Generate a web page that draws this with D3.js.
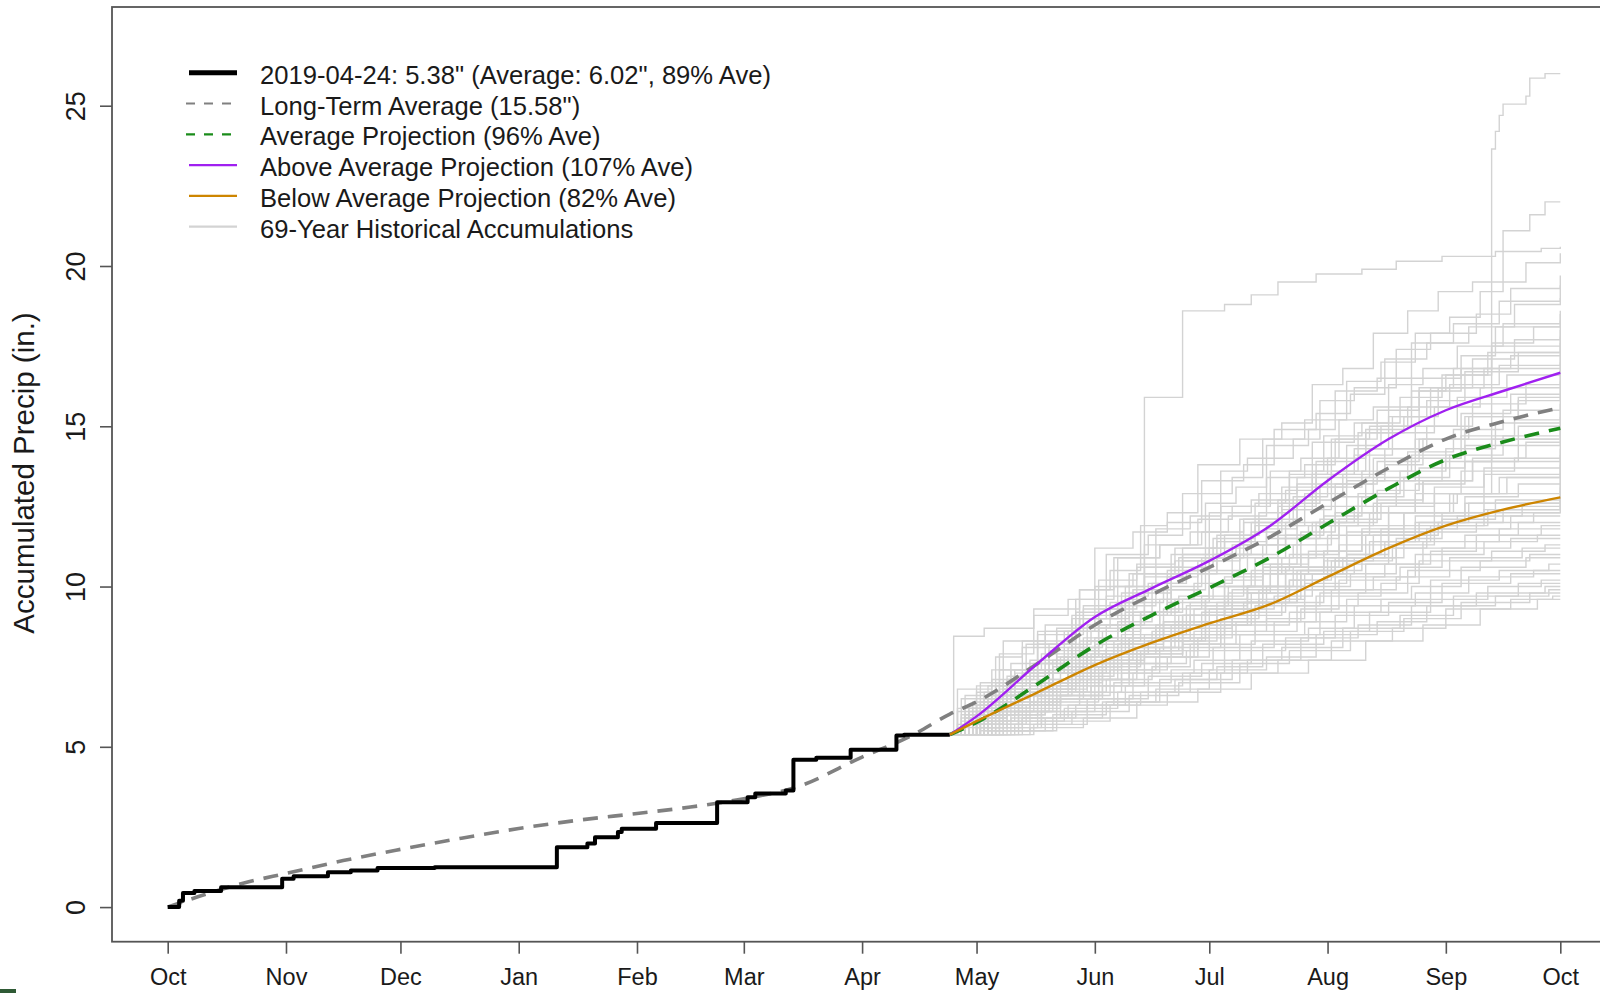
<!DOCTYPE html>
<html>
<head>
<meta charset="utf-8">
<script src="https://cdn.jsdelivr.net/npm/d3@7"></script>
<style>
html,body{margin:0;padding:0;background:#fff;}
svg{display:block;}
text{font-family:"Liberation Sans",Arial,Helvetica,sans-serif;fill:#1a1a1a;}
</style>
</head>
<body>
<svg id="chart" width="1600" height="993"></svg>
<script>
// ---------------- DATA ----------------
// x values are days since Oct 1 2018 (water year), y values inches
const monthTicks = [0, 31, 61, 92, 123, 151, 182, 212, 243, 273, 304, 335, 365];
const monthLabels = ["Oct","Nov","Dec","Jan","Feb","Mar","Apr","May","Jun","Jul","Aug","Sep","Oct"];
const yTicks = [0, 5, 10, 15, 20, 25];
const yTitle = "Accumulated Precip (in.)";

// observed 2018-19 accumulation (step)
const observed = [[0,0],[3,0.2],[4,0.44],[7,0.5],[14,0.62],[30,0.88],[33,0.96],[42,1.09],[48,1.14],[55,1.22],[70,1.24],
  [102,1.87],[110,1.98],[112,2.18],[118,2.34],[119,2.44],[128,2.62],[144,3.27],[152,3.43],[154,3.54],[162,3.64],
  [164,4.6],[170,4.66],[179,4.91],[191,5.35],[193,5.38],[205,5.38]];

// long-term average accumulation
const longTermAvg = [[0,0],[10,0.4],[20,0.75],[31,1.05],[46,1.45],[61,1.8],[77,2.15],[92,2.45],[107,2.7],[123,2.92],
  [137,3.12],[151,3.38],[165,3.75],[182,4.68],[195,5.35],[205,6.02],[212,6.4],[228,7.6],[243,8.8],[258,9.75],
  [273,10.6],[289,11.55],[304,12.6],[320,13.7],[335,14.6],[350,15.15],[365,15.58]];

// projections from 2019-04-24
const avgProjection = [[205,5.38],[212,5.76],[228,6.96],[243,8.16],[258,9.11],[273,9.96],[289,10.91],[304,11.96],
  [320,13.06],[335,13.96],[350,14.51],[365,14.94]];
const aboveProjection = [[205,5.38],[212,5.95],[228,7.6],[243,9.05],[258,9.95],[273,10.8],[289,11.9],[304,13.3],
  [320,14.6],[335,15.5],[350,16.1],[365,16.67]];
const belowProjection = [[205,5.38],[212,5.8],[228,6.7],[243,7.55],[258,8.25],[273,8.85],[289,9.45],[304,10.3],
  [320,11.2],[335,11.9],[350,12.4],[365,12.78]];

// 69 historical accumulations added to the current total (step)
const historical = [
[[205,5.38],[208,5.8],[214,6.5],[221,7.4],[233,8.1],[244,8.7],[250,9.8],[263,10.4],[275,11.0],[288,11.5],[299,11.9],[312,12.3],[327,12.6],[338,12.9],[347,23.65],[348,24.2],[349,24.7],[350,25.05],[356,25.3],[357,25.86],[361,26.0],[365,26.0]],
[[205,5.38],[210,6.1],[217,7.8],[224,8.3],[238,9.2],[246,11.0],[257,11.6],[266,12.9],[279,13.4],[287,14.6],[298,15.2],[309,16.4],[318,17.0],[327,17.9],[336,18.4],[344,19.2],[350,21.1],[357,21.6],[361,22.0],[365,22.0]],
[[205,5.38],[211,6.0],[219,6.8],[230,7.6],[241,8.3],[249,8.8],[256,15.9],[266,18.6],[277,18.8],[284,19.1],[291,19.5],[301,19.75],[313,19.9],[322,20.15],[334,20.3],[348,20.45],[360,20.55],[365,20.6]],
[[205,5.38],[209,5.9],[220,7.2],[231,8.0],[239,9.9],[247,10.5],[255,11.9],[262,12.3],[270,13.8],[281,14.6],[292,15.1],[300,16.3],[308,16.8],[316,17.9],[325,18.6],[333,19.2],[342,19.5],[356,20.1],[365,20.4]],
[[205,5.38],[213,6.4],[222,7.0],[228,8.5],[240,9.3],[251,10.0],[259,11.8],[268,12.2],[276,13.6],[283,14.0],[295,14.6],[302,15.8],[311,16.2],[322,17.4],[331,17.9],[343,18.5],[352,19.3],[365,19.7]],
[[205,5.38],[207,6.2],[216,6.6],[226,7.3],[235,8.6],[244,9.0],[252,10.4],[264,10.8],[272,12.6],[280,13.1],[288,14.4],[299,14.9],[306,16.1],[317,16.5],[326,17.6],[337,18.2],[349,18.9],[365,19.4]],
[[205,5.38],[212,6.1],[218,7.9],[227,9.1],[236,9.6],[243,11.2],[253,11.7],[262,12.0],[271,13.3],[282,13.8],[290,14.9],[301,15.4],[310,16.0],[319,17.1],[330,17.6],[341,18.1],[353,18.8],[365,19.0]],
[[205,5.38],[214,5.8],[223,6.7],[231,7.1],[240,8.4],[249,8.9],[258,10.1],[267,10.5],[275,11.4],[285,12.6],[293,13.0],[300,14.5],[311,15.1],[320,16.3],[329,16.8],[338,17.5],[350,18.2],[365,18.6]],
[[205,5.38],[206,8.45],[214,8.7],[227,9.3],[239,9.9],[248,10.9],[260,11.3],[270,12.1],[279,12.5],[289,13.6],[297,14.0],[307,15.2],[316,15.6],[326,16.5],[339,17.2],[348,18.1],[365,18.5]],
[[205,5.38],[210,5.7],[219,6.3],[232,7.5],[241,8.0],[251,9.6],[263,10.0],[271,10.9],[280,11.3],[291,12.7],[301,13.1],[309,14.4],[318,15.0],[328,16.2],[337,16.8],[347,17.6],[358,18.1],[365,18.3]],
[[205,5.38],[215,6.9],[225,7.4],[237,9.1],[247,9.5],[256,10.6],[266,11.0],[276,12.5],[286,12.9],[296,13.4],[305,14.6],[315,15.0],[326,16.1],[335,16.6],[347,17.5],[365,18.1]],
[[205,5.38],[208,5.9],[217,6.2],[226,7.0],[236,7.4],[246,8.8],[255,9.2],[265,9.7],[273,11.2],[284,11.7],[292,13.1],[301,13.6],[312,14.8],[321,15.3],[331,16.2],[342,17.1],[353,17.7],[365,18.0]],
[[205,5.38],[212,6.9],[221,7.6],[233,8.7],[244,9.3],[254,10.6],[263,11.0],[273,12.3],[284,12.7],[294,13.6],[303,14.7],[313,15.1],[323,15.9],[334,16.6],[346,17.3],[365,17.8]],
[[205,5.38],[217,6.1],[226,6.4],[234,7.8],[243,8.2],[253,9.9],[262,10.3],[270,10.8],[281,12.1],[291,12.5],[301,13.9],[311,14.3],[320,15.3],[330,15.8],[340,16.7],[354,17.3],[365,17.6]],
[[205,5.38],[209,6.6],[218,7.4],[229,7.9],[238,9.6],[248,10.0],[256,11.3],[268,11.7],[278,12.2],[288,13.4],[298,13.8],[306,14.6],[317,15.5],[328,16.1],[339,16.8],[352,17.2],[365,17.5]],
[[205,5.38],[213,5.8],[221,6.4],[230,6.8],[241,8.0],[250,8.4],[260,9.6],[269,10.1],[279,11.3],[288,11.8],[296,13.2],[305,13.6],[314,14.8],[324,15.3],[333,16.2],[345,16.8],[365,17.3]],
[[205,5.38],[210,6.3],[220,7.1],[230,8.6],[239,9.0],[246,9.7],[257,10.1],[266,11.2],[277,11.6],[286,12.3],[294,13.5],[304,14.0],[314,14.9],[325,15.6],[336,16.3],[349,16.9],[365,17.2]],
[[205,5.38],[214,6.7],[224,8.1],[233,8.6],[243,10.0],[253,10.4],[265,10.9],[274,11.5],[285,11.9],[295,12.8],[304,13.4],[315,14.3],[327,15.0],[338,15.9],[351,16.6],[365,17.0]],
[[205,5.38],[207,5.7],[215,6.1],[227,6.6],[237,7.5],[246,7.9],[253,9.2],[262,10.5],[272,10.9],[282,12.0],[292,12.4],[300,13.5],[311,14.1],[321,14.8],[332,15.6],[344,16.2],[365,16.8]],
[[205,5.38],[211,6.4],[219,7.0],[228,8.2],[238,8.7],[247,9.1],[256,10.3],[266,10.8],[277,11.4],[288,11.9],[298,12.9],[308,13.5],[319,14.3],[330,15.0],[342,15.7],[356,16.3],[365,16.6]],
[[205,5.38],[216,6.2],[226,7.7],[236,8.1],[245,8.6],[255,9.1],[263,10.6],[274,11.0],[284,12.0],[294,12.4],[305,13.2],[316,14.0],[327,14.6],[339,15.4],[352,16.0],[365,16.4]],
[[205,5.38],[208,6.5],[216,7.4],[225,8.2],[236,8.6],[244,10.2],[254,10.7],[264,11.2],[275,11.6],[286,12.1],[296,12.7],[306,13.2],[317,13.9],[328,14.6],[340,15.3],[354,15.9],[365,16.2]],
[[205,5.38],[212,5.8],[222,6.1],[233,6.9],[244,7.3],[254,8.0],[263,8.4],[272,9.6],[283,10.0],[291,11.6],[300,12.0],[309,13.3],[319,13.8],[329,14.6],[341,15.3],[354,15.8],[365,16.0]],
[[205,5.38],[210,6.0],[220,7.0],[231,8.2],[242,8.6],[252,9.1],[262,9.5],[273,10.9],[283,11.3],[293,12.0],[303,12.5],[314,13.4],[325,14.2],[337,14.9],[350,15.5],[365,15.9]],
[[205,5.38],[218,6.8],[228,7.3],[237,9.0],[249,9.4],[259,9.9],[270,10.4],[281,11.0],[291,11.5],[302,12.1],[312,12.9],[323,13.6],[335,14.3],[348,15.1],[365,15.7]],
[[205,5.38],[209,5.9],[219,6.6],[229,7.0],[239,7.8],[249,8.2],[259,8.7],[268,9.5],[278,10.0],[287,11.3],[297,11.7],[306,12.8],[316,13.3],[327,14.0],[339,14.7],[353,15.2],[365,15.5]],
[[205,5.38],[213,7.0],[224,7.3],[235,7.8],[244,8.8],[255,9.2],[266,9.6],[277,10.3],[287,10.7],[296,11.9],[306,12.3],[317,13.0],[328,13.7],[340,14.4],[354,15.0],[365,15.3]],
[[205,5.38],[211,5.6],[220,6.3],[231,6.7],[242,7.9],[252,8.4],[261,9.3],[271,9.7],[282,10.4],[292,10.9],[301,12.0],[311,12.5],[322,13.3],[334,13.9],[347,14.6],[365,15.1]],
[[205,5.38],[207,6.1],[217,7.0],[228,8.6],[239,9.0],[250,9.5],[261,9.9],[272,10.5],[283,10.9],[293,11.6],[303,12.2],[313,12.8],[324,13.4],[336,14.1],[350,14.7],[365,15.0]],
[[205,5.38],[215,5.7],[224,6.3],[234,6.6],[245,7.7],[256,8.1],[266,9.1],[277,9.6],[287,10.6],[297,11.0],[307,12.1],[318,12.6],[329,13.3],[342,14.0],[356,14.5],[365,14.8]],
[[205,5.38],[212,6.3],[222,7.3],[232,7.7],[243,8.4],[253,8.8],[264,9.6],[274,10.0],[285,10.9],[295,11.3],[305,11.9],[316,12.6],[327,13.2],[340,13.9],[354,14.4],[365,14.6]],
[[205,5.38],[210,5.7],[219,6.0],[228,6.7],[239,7.1],[249,8.2],[258,8.6],[268,9.1],[277,10.2],[287,10.6],[297,11.5],[307,12.0],[317,12.7],[329,13.3],[342,13.9],[365,14.5]],
[[205,5.38],[213,6.0],[222,7.0],[232,7.4],[241,8.8],[251,9.2],[262,9.6],[273,10.0],[284,10.5],[294,11.0],[304,11.6],[315,12.3],[327,12.9],[339,13.6],[353,14.0],[365,14.3]],
[[205,5.38],[208,5.6],[218,6.4],[228,6.8],[238,7.9],[248,8.3],[259,8.8],[269,9.3],[279,9.9],[289,10.7],[299,11.1],[309,11.9],[320,12.5],[332,13.1],[345,13.7],[365,14.1]],
[[205,5.38],[215,6.5],[226,7.0],[236,7.3],[246,8.1],[256,8.5],[267,9.4],[278,9.8],[289,10.4],[299,10.9],[309,11.7],[320,12.3],[332,12.9],[345,13.5],[365,14.0]],
[[205,5.38],[211,5.9],[220,6.7],[231,7.1],[242,7.6],[252,8.4],[263,8.8],[273,9.3],[283,9.8],[293,10.6],[303,11.1],[313,11.7],[324,12.3],[336,12.9],[349,13.4],[365,13.8]],
[[205,5.38],[209,6.0],[217,6.9],[228,7.3],[239,8.3],[249,8.7],[260,9.1],[272,9.6],[283,10.0],[293,10.5],[303,11.1],[313,11.8],[324,12.3],[337,12.9],[351,13.4],[365,13.7]],
[[205,5.38],[214,5.6],[224,5.9],[234,6.5],[245,6.9],[256,7.8],[266,8.2],[276,9.0],[286,9.5],[296,10.5],[306,10.9],[316,11.6],[327,12.2],[340,12.8],[354,13.2],[365,13.5]],
[[205,5.38],[212,6.7],[222,7.4],[233,7.8],[244,8.3],[255,8.7],[266,9.1],[277,9.5],[288,10.0],[298,10.4],[309,11.0],[320,11.7],[332,12.3],[345,12.9],[365,13.4]],
[[205,5.38],[210,5.7],[220,6.0],[230,6.7],[241,7.1],[252,7.6],[263,8.4],[273,8.8],[284,9.8],[294,10.2],[304,10.9],[315,11.4],[327,12.0],[340,12.6],[365,13.2]],
[[205,5.38],[216,6.2],[226,6.9],[236,7.3],[247,7.9],[257,8.3],[268,8.7],[279,9.3],[290,9.7],[300,10.4],[311,10.9],[322,11.5],[334,12.1],[348,12.7],[365,13.1]],
[[205,5.38],[208,6.0],[218,6.6],[229,7.0],[239,7.5],[250,8.0],[261,8.3],[272,8.9],[283,9.5],[294,10.2],[305,10.8],[316,11.4],[328,12.0],[341,12.6],[365,13.0]],
[[205,5.38],[213,5.7],[223,6.3],[233,6.6],[244,7.5],[255,7.9],[266,8.5],[277,8.9],[288,9.6],[298,10.1],[309,10.7],[320,11.3],[332,11.9],[346,12.4],[365,12.8]],
[[205,5.38],[211,6.2],[221,6.6],[232,7.3],[243,7.7],[253,8.1],[264,8.8],[275,9.5],[286,9.9],[297,10.4],[308,10.9],[319,11.4],[331,11.9],[345,12.4],[365,12.7]],
[[205,5.38],[218,6.1],[231,6.5],[240,7.6],[256,8.0],[265,9.1],[282,9.5],[291,10.6],[309,11.0],[318,11.8],[338,12.2],[355,12.5],[365,12.5]],
[[205,5.38],[209,6.2],[224,6.6],[236,7.8],[252,8.2],[261,8.9],[277,9.3],[287,10.4],[303,10.8],[314,11.6],[333,12.0],[350,12.4],[365,12.4]],
[[205,5.38],[214,6.6],[230,7.0],[245,7.9],[259,8.3],[271,9.2],[286,9.6],[297,10.5],[313,10.9],[324,11.7],[343,12.0],[358,12.3],[365,12.3]],
[[205,5.38],[220,5.7],[229,6.7],[246,7.1],[254,8.0],[270,8.4],[279,9.5],[296,9.9],[306,10.8],[321,11.2],[330,11.8],[352,12.2],[365,12.2]],
[[205,5.38],[212,6.3],[227,6.7],[238,7.6],[255,8.0],[266,8.8],[283,9.2],[293,10.0],[310,10.4],[322,11.2],[340,11.6],[354,12.0],[365,12.0]],
[[205,5.38],[223,5.8],[233,6.9],[250,7.3],[260,8.1],[276,8.5],[285,9.4],[302,9.8],[314,10.7],[331,11.1],[343,11.6],[360,11.9],[365,11.9]],
[[205,5.38],[210,5.9],[219,6.8],[237,7.2],[248,7.9],[266,8.3],[275,9.1],[292,9.5],[303,10.3],[319,10.7],[329,11.4],[349,11.8],[365,11.8]],
[[205,5.38],[216,6.1],[232,6.5],[243,7.4],[259,7.8],[269,8.6],[288,9.0],[298,9.9],[316,10.3],[327,11.0],[345,11.4],[359,11.6],[365,11.6]],
[[205,5.38],[213,5.6],[228,6.5],[242,6.9],[252,7.8],[270,8.2],[280,8.9],[297,9.3],[307,10.2],[323,10.6],[334,11.2],[352,11.5],[365,11.5]],
[[205,5.38],[219,6.2],[234,6.6],[247,7.4],[262,7.8],[273,8.5],[290,8.9],[301,9.7],[318,10.1],[328,10.8],[347,11.1],[361,11.3],[365,11.3]],
[[205,5.38],[211,5.7],[225,6.3],[239,6.7],[250,7.6],[267,8.0],[277,8.8],[294,9.2],[305,9.9],[322,10.3],[336,10.9],[355,11.2],[365,11.2]],
[[205,5.38],[217,6.0],[230,6.4],[244,7.1],[258,7.5],[268,8.2],[285,8.6],[296,9.4],[312,9.8],[325,10.5],[344,10.8],[357,11.0],[365,11.0]],
[[205,5.38],[214,5.5],[226,6.1],[241,6.5],[253,7.3],[269,7.7],[281,8.5],[298,8.9],[309,9.6],[326,10.0],[339,10.6],[356,10.9],[365,10.9]],
[[205,5.38],[221,5.9],[236,6.3],[248,7.0],[263,7.4],[274,8.1],[290,8.5],[302,9.2],[318,9.6],[331,10.2],[349,10.5],[362,10.7],[365,10.7]],
[[205,5.38],[212,5.6],[229,6.1],[243,6.5],[257,7.2],[271,7.6],[284,8.3],[299,8.7],[311,9.4],[327,9.8],[341,10.3],[358,10.5],[365,10.5]],
[[205,5.38],[224,5.9],[238,6.3],[251,6.9],[266,7.3],[277,8.0],[293,8.4],[306,9.1],[320,9.5],[334,10.1],[352,10.4],[365,10.4]],
[[205,5.38],[215,5.5],[232,6.0],[246,6.4],[260,7.1],[275,7.5],[287,8.2],[303,8.6],[315,9.2],[331,9.6],[346,10.0],[360,10.2],[365,10.2]],
[[205,5.38],[219,5.8],[235,6.2],[249,6.7],[264,7.1],[279,7.7],[292,8.1],[308,8.7],[323,9.1],[337,9.7],[354,10.1],[365,10.1]],
[[205,5.38],[227,5.7],[241,6.3],[255,6.7],[268,7.3],[283,7.7],[297,8.4],[312,8.8],[326,9.4],[343,9.8],[361,10.0],[365,10.0]],
[[205,5.38],[213,5.5],[230,5.9],[245,6.4],[259,6.8],[273,7.4],[288,7.8],[301,8.5],[317,8.9],[330,9.4],[348,9.7],[362,9.9],[365,9.9]],
[[205,5.38],[222,5.7],[237,6.1],[252,6.6],[265,7.0],[281,7.6],[294,8.0],[310,8.6],[324,9.0],[339,9.5],[357,9.8],[365,9.8]],
[[205,5.38],[217,5.5],[233,5.8],[247,6.3],[262,6.7],[276,7.3],[291,7.7],[305,8.3],[321,8.7],[335,9.3],[352,9.6],[363,9.7],[365,9.7]],
[[205,5.38],[226,5.6],[240,5.9],[254,6.4],[270,6.8],[284,7.3],[299,7.7],[314,8.3],[329,8.8],[344,9.3],[359,9.6],[365,9.6]],
[[205,5.38],[207,6.8],[216,7.1],[227,7.6],[239,8.0],[250,8.5],[261,8.9],[272,9.4],[283,10.0],[295,10.6],[307,11.3],[320,11.9],[334,12.3],[365,12.6]],
[[205,5.38],[210,6.2],[219,8.3],[230,8.8],[240,9.4],[249,10.9],[260,11.3],[271,11.7],[282,12.1],[292,12.6],[302,13.1],[313,13.6],[326,14.1],[340,14.6],[365,14.9]]
];

const legendLabels = [
  '2019-04-24: 5.38" (Average: 6.02", 89% Ave)',
  'Long-Term Average (15.58")',
  'Average Projection (96% Ave)',
  'Above Average Projection (107% Ave)',
  'Below Average Projection (82% Ave)',
  '69-Year Historical Accumulations'
];
const legendColors = ["#000000", "#808080", "#1a8c1a", "#a020f0", "#cd8500", "#d3d3d3"];

// ---------------- DRAW ----------------
const svg = d3.select("#chart");
const W = 1600, H = 993;
const plot = {left: 112, right: 1616, top: 7, bottom: 941.7};

const x = d3.scaleLinear().domain([-14.6, 379.6]).range([plot.left, plot.right]);
const y = d3.scaleLinear().domain([-1.08, 28.08]).range([plot.bottom, plot.top]);

svg.append("rect").attr("width", W).attr("height", H).attr("fill", "#fff");

svg.append("clipPath").attr("id", "clip").append("rect")
  .attr("x", plot.left).attr("y", plot.top).attr("width", plot.right - plot.left).attr("height", plot.bottom - plot.top);

const g = svg.append("g").attr("clip-path", "url(#clip)");

const stepLine = d3.line().x(d => x(d[0])).y(d => y(d[1])).curve(d3.curveStepAfter);
const smoothLine = d3.line().x(d => x(d[0])).y(d => y(d[1])).curve(d3.curveMonotoneX);

// historical
g.append("g").selectAll("path").data(historical).join("path")
  .attr("d", stepLine).attr("fill", "none").attr("stroke", "#d3d3d3").attr("stroke-width", 1.4);

// long-term average
g.append("path").datum(longTermAvg).attr("d", smoothLine).attr("fill", "none")
  .attr("stroke", "#808080").attr("stroke-width", 3.6).attr("stroke-dasharray", "15,10");

// observed
g.append("path").datum(observed).attr("d", stepLine).attr("fill", "none")
  .attr("stroke", "#000").attr("stroke-width", 4).attr("stroke-linejoin", "round");

// projections
g.append("path").datum(avgProjection).attr("d", smoothLine).attr("fill", "none")
  .attr("stroke", legendColors[2]).attr("stroke-width", 3.6).attr("stroke-dasharray", "15,10");
g.append("path").datum(aboveProjection).attr("d", smoothLine).attr("fill", "none")
  .attr("stroke", legendColors[3]).attr("stroke-width", 2.4);
g.append("path").datum(belowProjection).attr("d", smoothLine).attr("fill", "none")
  .attr("stroke", legendColors[4]).attr("stroke-width", 2.4);

// frame
svg.append("rect").attr("x", plot.left).attr("y", plot.top)
  .attr("width", plot.right - plot.left).attr("height", plot.bottom - plot.top)
  .attr("fill", "none").attr("stroke", "#555").attr("stroke-width", 1.8);

// x axis
const xAxis = svg.append("g").attr("transform", `translate(0,${plot.bottom})`)
  .call(d3.axisBottom(x).tickValues(monthTicks).tickFormat((d, i) => monthLabels[i]).tickSize(12));
xAxis.select(".domain").remove();
xAxis.selectAll(".tick line").attr("stroke", "#555").attr("stroke-width", 1.6);
xAxis.selectAll(".tick text").attr("y", 43.5).attr("dy", null)
  .style("font-size", "23.5px").attr("fill", "#1a1a1a");

// y axis
const yAxis = svg.append("g").attr("transform", `translate(${plot.left},0)`)
  .call(d3.axisLeft(y).tickValues(yTicks).tickSize(12));
yAxis.select(".domain").remove();
yAxis.selectAll(".tick line").attr("stroke", "#555").attr("stroke-width", 1.6);
yAxis.selectAll(".tick text")
  .attr("x", 0).attr("y", -27).attr("dy", null)
  .attr("transform", "rotate(-90)")
  .attr("text-anchor", "middle")
  .style("font-size", "27px").attr("fill", "#1a1a1a");

// y title
svg.append("text").attr("transform", "translate(34,473) rotate(-90)")
  .attr("text-anchor", "middle").style("font-size", "29.5px").text(yTitle);

// legend
const legendRowY = d3.scaleLinear().domain([0, 5]).range([72.7, 226.7]);
const leg = svg.append("g");
legendLabels.forEach((lab, i) => {
  const ry = legendRowY(i);
  const ln = leg.append("line").attr("x1", 189).attr("x2", 237).attr("y1", ry).attr("y2", ry)
    .attr("stroke", legendColors[i]).attr("stroke-width", i === 0 ? 5 : 2.2);
  if (i === 1 || i === 2) ln.attr("stroke-dasharray", "9,9").attr("x1", 186);
  leg.append("text").attr("x", 260).attr("y", ry + 11).style("font-size", "25.6px").text(lab);
});

// small corner mark
svg.append("rect").attr("x", 0).attr("y", 989).attr("width", 16).attr("height", 4).attr("fill", "#2f5a35");
</script>
</body>
</html>
